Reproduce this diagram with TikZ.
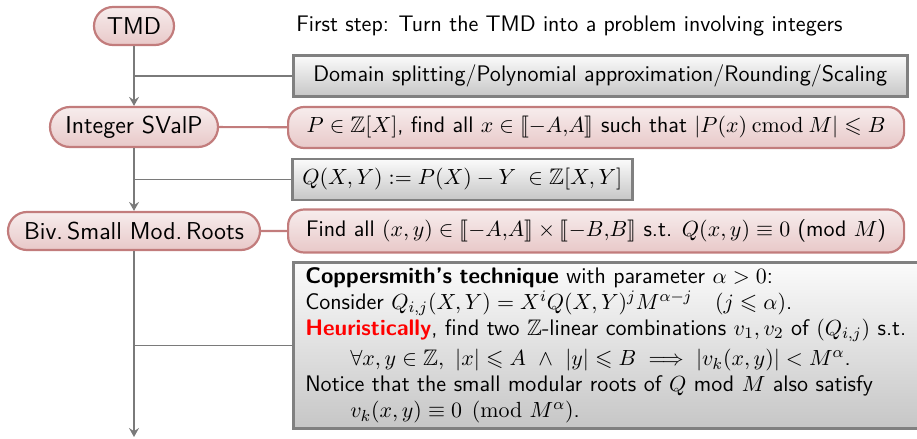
\documentclass[tikz,border=0pt]{standalone}
\usepackage{amsmath,amssymb,stmaryrd}
\usetikzlibrary{arrows.meta,shapes.misc,shadows}
\renewcommand\familydefault{\sfdefault}
\definecolor{pinkline}{HTML}{C27C7C}
\definecolor{pinktop}{HTML}{F7EDED}
\definecolor{pinkbot}{HTML}{E8C8C8}
\definecolor{grayline}{HTML}{808080}
\definecolor{graytop}{HTML}{FBFBFB}
\definecolor{graybot}{HTML}{C6C6C6}
\definecolor{connector}{HTML}{7A7A7A}
\newcommand{\pxu}{0.5pt}
\begin{document}
\begin{tikzpicture}[x=0.5pt,y=-0.5pt,
  every node/.style={font=\fontsize{11.25}{12.3}\selectfont},
  pill/.style={rounded rectangle, draw=pinkline, line width=1.1pt,
     top color=pinktop, bottom color=pinkbot, inner sep=0pt, font=\fontsize{12.2}{14}\selectfont},
  pinkbox/.style={rectangle, rounded corners=8pt, draw=pinkline, line width=1.1pt,
     top color=pinktop, bottom color=pinkbot, inner sep=0pt, anchor=west},
  graybox/.style={rectangle, draw=grayline, line width=1.3pt,
     top color=graytop, bottom color=graybot, inner sep=0pt, anchor=west,
     drop shadow={opacity=0.25, shadow xshift=0.6pt, shadow yshift=-0.6pt}},
  flow/.style={draw=connector, line width=0.85pt},
  flowarrow/.style={flow, -{Stealth[length=4.5pt, width=5pt, inset=1.6pt]}},
  pinkconn/.style={draw=pinkline, line width=1.1pt}
]
\useasboundingbox (0,0) rectangle (917,439);
\clip (0,0) rectangle (917,439);

% left column
\node[pill, minimum width=80*\pxu, minimum height=38*\pxu] (tmd) at (134,26) {TMD};
\node[pill, minimum width=168*\pxu, minimum height=40*\pxu] (svalp) at (134,127) {Integer SValP};
\node[pill, minimum width=252*\pxu, minimum height=38*\pxu] (biv) at (134,231) {Biv.\,Small Mod.\,Roots};
\coordinate (end) at (134,437);

% header text
\node[anchor=west, inner sep=0pt] (first) at (296,26) {First step: Turn the TMD into a problem involving integers};

% right column
\node[graybox, minimum width=614*\pxu, minimum height=41*\pxu] (g1) at (292,76)
  {Domain splitting/Polynomial approximation/Rounding/Scaling};
\node[pinkbox, minimum width=616*\pxu, minimum height=41*\pxu] (p2) at (287,127.5)
  {$P\in\mathbb{Z}[X]$, find all $x\in\llbracket -A{,}A\rrbracket$ such that $|P(x)\mathbin{\mathrm{cmod}} M|\leqslant B$};
\node[graybox, minimum width=340*\pxu, minimum height=41*\pxu] (g2) at (291,179.5)
  {$Q(X,Y) := P(X) - Y \;\in \mathbb{Z}[X,Y]$};
\node[pinkbox, minimum width=616*\pxu, minimum height=43*\pxu] (p3) at (287,231)
  {Find all $(x,y)\in\llbracket -A{,}A\rrbracket\times\llbracket -B{,}B\rrbracket$ s.t. $Q(x,y)\equiv 0$ (mod $M$)};
\node[graybox, minimum width=640*\pxu, minimum height=166*\pxu, align=left,
      text width=616*\pxu, inner xsep=12*\pxu,
      font=\fontsize{11.25}{13}\selectfont] (g3) at (292,345.5)
  {\textbf{Coppersmith's technique} with parameter $\alpha>0$:\\
   Consider $Q_{i,j}(X,Y) = X^iQ(X,Y)^jM^{\alpha-j}\quad(j\leqslant\alpha)$.\\
   \textcolor{red}{\textbf{Heuristically}}, find two $\mathbb{Z}$-linear combinations $v_1,v_2$ of $(Q_{i,j})$ s.t.\\[2pt]
   \hspace*{2em}$\forall x,y\in\mathbb{Z},\ |x|\leqslant A\ \wedge\ |y|\leqslant B \implies |v_k(x,y)|<M^\alpha$.\\
   Notice that the small modular roots of $Q$ mod $M$ also satisfy\\
   \hspace*{2em}$v_k(x,y)\equiv 0 \pmod{M^\alpha}$.};

% connectors
\draw[flowarrow] (tmd) -- (svalp);
\draw[flowarrow] (svalp) -- (biv);
\draw[flowarrow] (biv) -- (end);
\draw[flow] (g1.west) -- (g1.west -| tmd);
\draw[flow] (g2.west) -- (g2.west -| svalp);
\draw[flow] (g3.west) -- (g3.west -| biv);
\draw[pinkconn] (svalp) -- (p2);
\draw[pinkconn] (biv) -- (p3);
\end{tikzpicture}
\end{document}
